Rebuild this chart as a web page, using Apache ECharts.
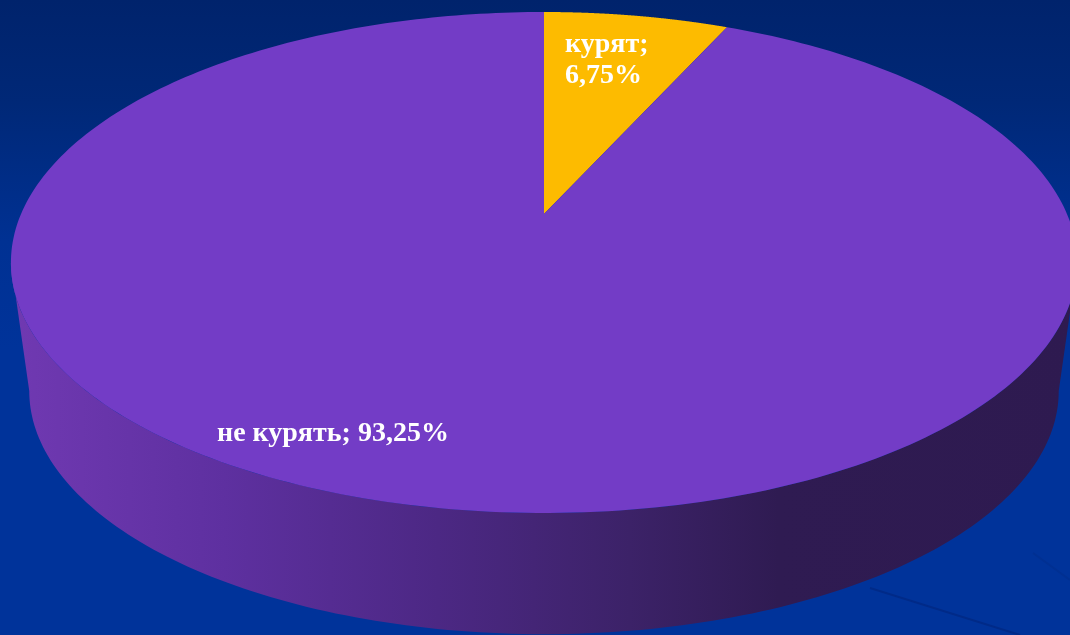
<!DOCTYPE html>
<html lang="ru">
<head>
<meta charset="utf-8">
<title>Курение</title>
<style>
  html, body { margin: 0; padding: 0; background: #003399; }
  #chart { width: 1070px; height: 635px; }
</style>
<script src="https://cdn.jsdelivr.net/npm/echarts@6/dist/echarts.min.js"></script>
</head>
<body>
<div id="chart"></div>
<script>
// Slice data, clockwise from twelve o'clock
const categories = ['курят', 'не курять'];
const shares = [6.75, 93.25];
const sliceColors = ['#FDBB00', '#733CC6'];
const labelLines = [true, false];

// Perspective disc: the unit circle projected onto the screen
const tilt = 0.1936;
const topDisc = { x: 544, y: 214, a: 523, b: 241.1 };
const baseDisc = { x: 544, y: 344, a: 505, b: 234 };
const labelAnchors = [{ x: 565, y: 29 }, { x: 217, y: 418 }];

const wallStops = [
  { offset: 0, color: '#7039B2' },
  { offset: 0.2, color: '#5E30A0' },
  { offset: 0.4, color: '#4C2884' },
  { offset: 0.58, color: '#3C2268' },
  { offset: 0.72, color: '#2F1B52' },
  { offset: 1, color: '#2E1A50' }
];

function project(disc, angle) {
  const px = Math.sin(angle);
  const py = Math.cos(angle);
  const w = 1 + tilt * py;
  return [disc.x + disc.a * px / w, disc.y - disc.b * py / w];
}

function arcPoints(disc, from, to, steps) {
  const pts = [];
  for (let i = 0; i <= steps; i++) {
    pts.push(project(disc, from + (to - from) * i / steps));
  }
  return pts;
}

function shareToAngle(share) {
  return share / 100 * Math.PI * 2;
}

function formatShare(v) {
  return v.toFixed(2).replace('.', ',') + '%';
}

function renderSlice(params, api) {
  const i = params.dataIndex;
  const value = api.value(0);
  const before = shares.slice(0, i).reduce((s, v) => s + v, 0);
  const start = shareToAngle(before);
  const end = shareToAngle(before + value);
  const children = [];

  // Side wall: visible only along the front half of the rim
  const right = Math.acos(-tilt);
  const left = Math.PI * 2 - right;
  const wallFrom = Math.max(start, right);
  const wallTo = Math.min(end, left);
  if (wallTo > wallFrom) {
    const upper = arcPoints(topDisc, wallFrom, wallTo, 160);
    const lower = arcPoints(baseDisc, wallFrom, wallTo, 160).reverse();
    children.push({
      type: 'polygon',
      shape: { points: upper.concat(lower) },
      style: {
        fill: { type: 'linear', x: 0, y: 0, x2: 1, y2: 0, colorStops: wallStops }
      }
    });
  }

  // Top face of the slice
  const rim = arcPoints(topDisc, start, end, 320);
  children.push({
    type: 'polygon',
    shape: { points: [[topDisc.x, topDisc.y]].concat(rim) },
    style: { fill: sliceColors[i] }
  });

  // Value label
  const sep = labelLines[i] ? ';\n' : '; ';
  children.push({
    type: 'text',
    z2: 10,
    style: {
      x: labelAnchors[i].x,
      y: labelAnchors[i].y,
      text: categories[i] + sep + formatShare(value),
      fill: '#FFFFFF',
      font: 'bold 28px "Liberation Serif", serif',
      lineHeight: 31,
      align: 'left',
      verticalAlign: 'top'
    }
  });
  return { type: 'group', children };
}

const chart = echarts.init(document.getElementById('chart'), null, { renderer: 'canvas' });
chart.setOption({
  animation: false,
  backgroundColor: {
    type: 'linear', x: 0, y: 0, x2: 0, y2: 1,
    colorStops: [
      { offset: 0, color: '#00236C' },
      { offset: 0.16, color: '#002877' },
      { offset: 0.38, color: '#003193' },
      { offset: 0.55, color: '#00339A' },
      { offset: 1, color: '#00339A' }
    ]
  },
  graphic: [
    { type: 'line', z: -1, shape: { x1: 870, y1: 588, x2: 1020, y2: 635 }, style: { stroke: '#002A88', lineWidth: 2 } },
    { type: 'line', z: -1, shape: { x1: 1033, y1: 553, x2: 1070, y2: 580 }, style: { stroke: '#003092', lineWidth: 2 } }
  ],
  series: [{
    type: 'custom',
    coordinateSystem: 'none',
    clip: false,
    renderItem: renderSlice,
    data: categories.map((name, i) => ({ name, value: [shares[i]] }))
  }]
});
</script>
</body>
</html>
